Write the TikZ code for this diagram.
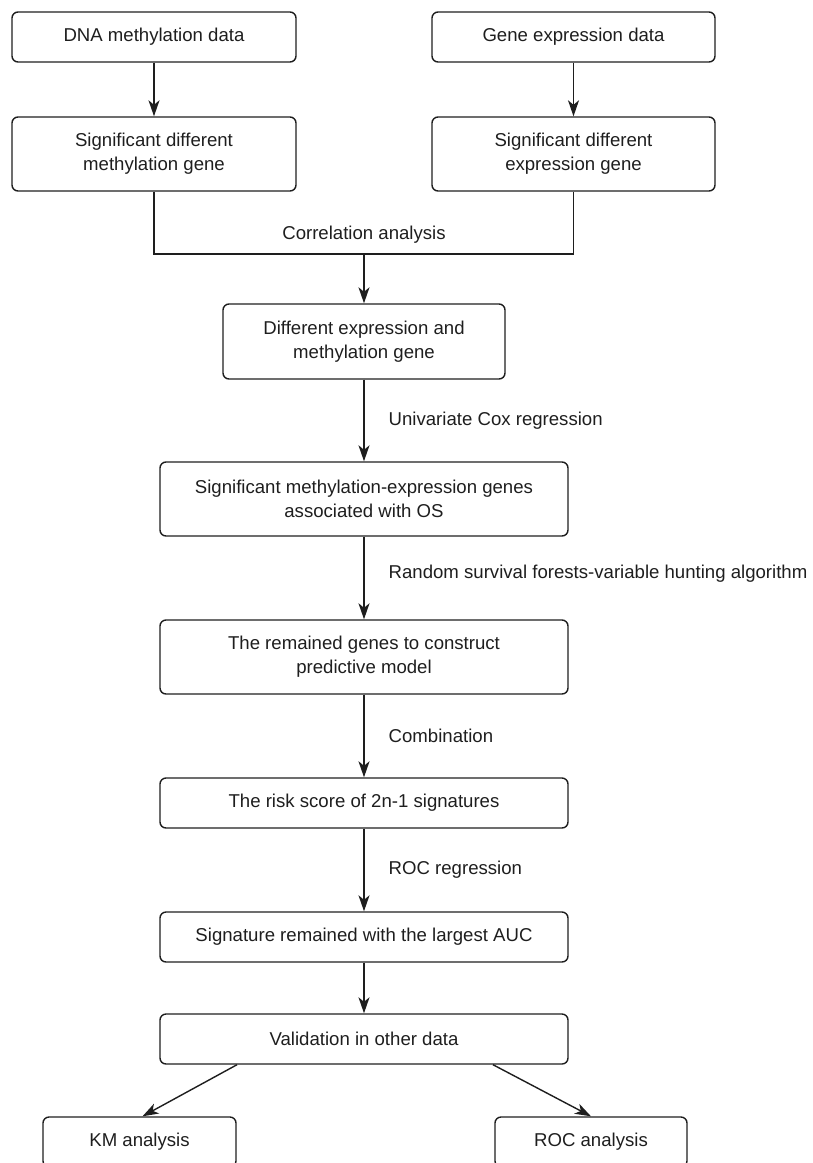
\documentclass[tikz,border=0pt]{standalone}
\usepackage{fontspec}
\setmainfont{Liberation Sans}
\usetikzlibrary{positioning, arrows.meta}
\definecolor{inkgray}{HTML}{1E1E1E}
\tikzset{
    ->, % every connector is an arrow
    >={Stealth[length=16pt, width=11pt, inset=4.5pt]}, % filled arrow heads
    every node/.style={font=\fontsize{18.6pt}{24pt}\selectfont, text=inkgray, inner sep=0pt},
    box/.style={draw=inkgray, rounded corners=6pt, align=center, minimum height=50pt}, % the step boxes
    wide/.style={minimum width=408pt},
    steptext/.style={right, xshift=24pt}, % text beside a vertical arrow
}

\begin{document}
\begin{tikzpicture}[
        line width=1.4pt,
        draw=inkgray,
    ]
    \useasboundingbox (0pt,0pt) rectangle (813pt,-1163pt);
    \node[box, minimum width=284pt] (dnadata) at (154pt,-37pt) {DNA methylation data};
    \node[box, minimum width=283pt] (exprdata) at (573.5pt,-37pt) {Gene expression data};
    \node[box, minimum width=284pt, minimum height=74pt, below of=dnadata, node distance=117pt] (methgene) {Significant different\\methylation gene};
    \node[box, minimum width=283pt, minimum height=74pt, below of=exprdata, node distance=117pt] (exprgene) {Significant different\\expression gene};
    \coordinate (merge) at (364pt,-254pt);
    \node[box, minimum width=282pt, minimum height=75pt] (diffgene) at (364pt,-341.5pt) {Different expression and\\methylation gene};
    \node[box, wide, minimum height=74pt, below of=diffgene, node distance=157.5pt] (osgene) {Significant methylation-expression genes\\associated with OS};
    \node[box, wide, minimum height=74pt, below of=osgene, node distance=158pt] (modelgene) {The remained genes to construct\\predictive model};
    \node[box, wide, below of=modelgene, node distance=146pt] (riskscore) {The risk score of 2n-1 signatures};
    \node[box, wide, below of=riskscore, node distance=134pt] (bestauc) {Signature remained with the largest AUC};
    \node[box, wide, below of=bestauc, node distance=102pt] (validation) {Validation in other data};
    \node[box, minimum width=193pt] (kmanalysis) at (139.5pt,-1142pt) {KM analysis};
    \node[box, minimum width=192pt] (rocanalysis) at (591pt,-1142pt) {ROC analysis};

    \draw (dnadata) -- (methgene);
    \draw (exprdata) -- (exprgene);
    \draw[-] (methgene) |- (merge) -| (exprgene);
    \node[above=10pt of merge] (corrtext) {Correlation analysis};
    \draw (merge) -- (diffgene);
    \draw (diffgene) -- node[steptext] (coxtext) {Univariate Cox regression} (osgene);
    \draw (osgene) -- node[steptext, yshift=4pt] (rsftext) {Random survival forests-variable hunting algorithm} (modelgene);
    \draw (modelgene) -- node[steptext] (combtext) {Combination} (riskscore);
    \draw (riskscore) -- node[steptext] (roctext) {ROC regression} (bestauc);
    \draw (bestauc) -- (validation);
    \draw ([xshift=-127pt]validation.south) -- ([xshift=3pt]kmanalysis.north);
    \draw ([xshift=129pt]validation.south) -- (rocanalysis.north);
\end{tikzpicture}
\end{document}
